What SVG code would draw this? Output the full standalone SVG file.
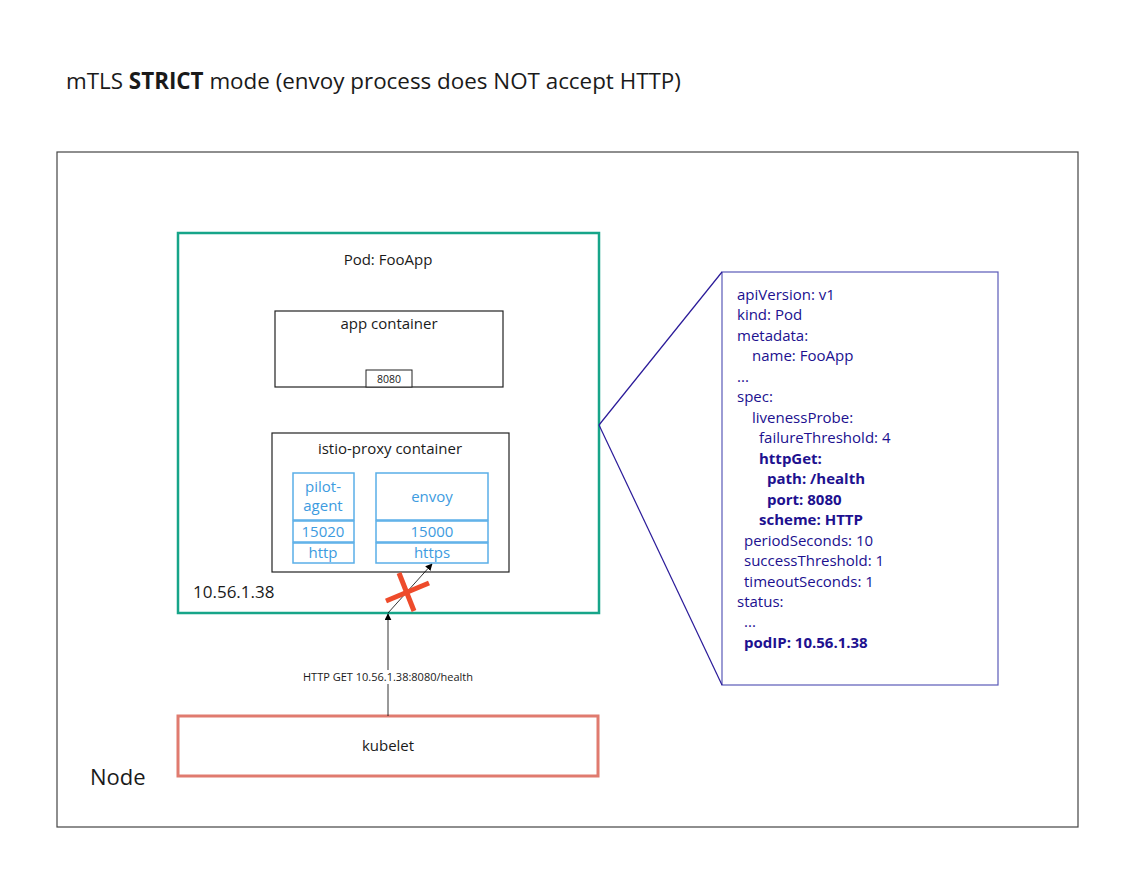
<svg xmlns="http://www.w3.org/2000/svg" width="1126" height="887" viewBox="0 0 1126 887">
<defs>
<marker id="arr" viewBox="0 0 10 10" refX="9" refY="5" markerWidth="7" markerHeight="7" orient="auto" markerUnits="userSpaceOnUse">
<path d="M0,0 L10,5 L0,10 z" fill="#000"/>
</marker>
<style>
text{font-family:"Open Sans","Noto Sans","Liberation Sans",sans-serif;fill:#1a1a1a}
.c{text-anchor:middle}
.blue{fill:#3d9be0}
.bbox{fill:#fff;stroke:#5aaee8;stroke-width:1.5}
.y{fill:#20108f;font-size:15px}
.yb{fill:#20108f;font-size:15px;font-weight:bold}
</style>
</defs>
<rect width="1126" height="887" fill="#fff"/>
<text x="66" y="89" font-size="22.4">mTLS <tspan font-weight="bold">STRICT</tspan> mode (envoy process does NOT accept HTTP)</text>
<g id="node">
<rect x="57" y="152" width="1021" height="675" fill="#fff" stroke="#444" stroke-width="1.2"/>
<text x="90" y="785" font-size="22">Node</text>
</g>
<g id="pod">
<rect x="178" y="233" width="421" height="380" fill="#fff" stroke="#17a589" stroke-width="2.5"/>
<text x="388" y="265" class="c" font-size="15">Pod: FooApp</text>
<text x="193" y="598" font-size="17">10.56.1.38</text>
</g>
<g id="app">
<rect x="275" y="311" width="228" height="76" fill="#fff" stroke="#222" stroke-width="1.2"/>
<text x="389" y="329" class="c" font-size="15">app container</text>
<rect x="366" y="370" width="46" height="17" fill="#fff" stroke="#222" stroke-width="1"/>
<text x="389" y="383" class="c" font-size="10.5">8080</text>
</g>
<g id="istio">
<rect x="272" y="433" width="237" height="139" fill="#fff" stroke="#222" stroke-width="1.2"/>
<text x="390" y="454" class="c" font-size="15">istio-proxy container</text>
</g>
<g id="pilot">
<rect class="bbox" x="293" y="473" width="61" height="47"/>
<rect class="bbox" x="293" y="521" width="61" height="21"/>
<rect class="bbox" x="293" y="543" width="61" height="20"/>
<text x="323" y="492" class="c blue" font-size="15">pilot-</text>
<text x="323" y="511" class="c blue" font-size="15">agent</text>
<text x="323" y="537" class="c blue" font-size="15">15020</text>
<text x="323" y="558" class="c blue" font-size="15">http</text>
</g>
<g id="envoy">
<rect class="bbox" x="376" y="473" width="112" height="47"/>
<rect class="bbox" x="376" y="521" width="112" height="21"/>
<rect class="bbox" x="376" y="543" width="112" height="20"/>
<text x="432" y="502" class="c blue" font-size="15">envoy</text>
<text x="432" y="537" class="c blue" font-size="15">15000</text>
<text x="432" y="558" class="c blue" font-size="15">https</text>
</g>
<g id="kubelet">
<rect x="178" y="716" width="420" height="60" fill="#fff" stroke="#e07b6f" stroke-width="3"/>
<text x="388" y="751" class="c" font-size="15">kubelet</text>
</g>
<g id="yaml">
<rect x="722" y="272" width="276" height="413" fill="#fff" stroke="#5a5ab8" stroke-width="1.2"/>
<text x="737" y="300" class="y">apiVersion: v1</text>
<text x="737" y="320" class="y">kind: Pod</text>
<text x="737" y="341" class="y">metadata:</text>
<text x="752" y="361" class="y">name: FooApp</text>
<text x="737" y="382" class="y">...</text>
<text x="737" y="402" class="y">spec:</text>
<text x="752" y="423" class="y">livenessProbe:</text>
<text x="759" y="443" class="y">failureThreshold: 4</text>
<text x="759" y="464" class="yb">httpGet:</text>
<text x="767" y="484" class="yb">path: /health</text>
<text x="767" y="505" class="yb">port: 8080</text>
<text x="759" y="525" class="yb">scheme: HTTP</text>
<text x="744" y="546" class="y">periodSeconds: 10</text>
<text x="744" y="566" class="y">successThreshold: 1</text>
<text x="744" y="587" class="y">timeoutSeconds: 1</text>
<text x="737" y="607" class="y">status:</text>
<text x="744" y="627" class="y">...</text>
<text x="744" y="648" class="yb">podIP: 10.56.1.38</text>
</g>
<g id="connectors">
<line x1="599" y1="425" x2="722" y2="272" stroke="#2a1a99" stroke-width="1.2"/>
<line x1="599" y1="425" x2="722" y2="685" stroke="#2a1a99" stroke-width="1.2"/>
<line x1="388" y1="716" x2="388" y2="614" stroke="#000" stroke-width="0.8" marker-end="url(#arr)"/>
<line x1="388" y1="613" x2="432" y2="564" stroke="#000" stroke-width="0.8" marker-end="url(#arr)"/>
<rect x="300" y="670" width="176" height="14" fill="#fff"/>
<text x="388" y="681" class="c" font-size="11">HTTP GET 10.56.1.38:8080/health</text>
<line x1="399" y1="573" x2="414" y2="611" stroke="#ee4b2b" stroke-width="5"/>
<line x1="386" y1="601" x2="429" y2="583" stroke="#ee4b2b" stroke-width="5"/>
</g>
</svg>
